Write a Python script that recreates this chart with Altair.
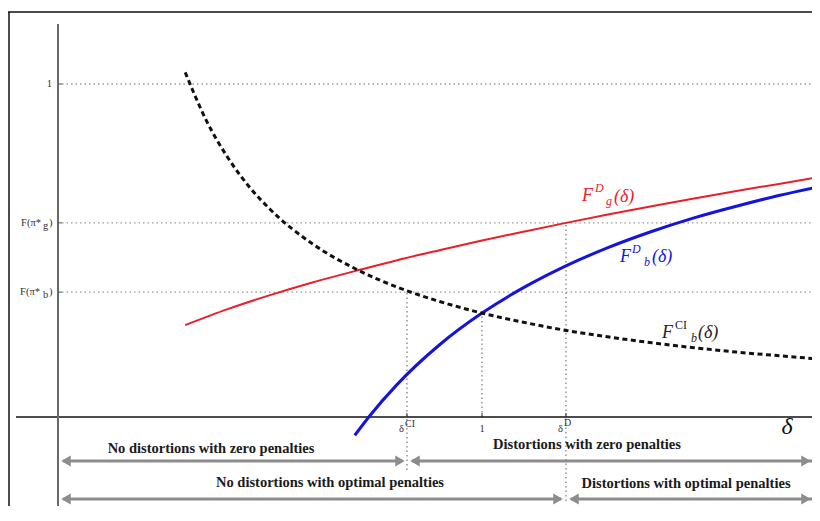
import altair as alt
import pandas as pd

# ---------------- data ----------------
# F^CI_b(delta)  (black dashed)
ci_delta = [0.30, 0.35, 0.40, 0.45, 0.50, 0.60, 0.70, 0.823, 0.90, 1.00, 1.10, 1.198, 1.30, 1.40, 1.50, 1.60, 1.70, 1.797]
ci_value = [1.035, 0.89, 0.78, 0.693, 0.624, 0.52, 0.446, 0.379, 0.347, 0.312, 0.284, 0.26, 0.24, 0.223, 0.208, 0.195, 0.184, 0.174]
# F^D_g(delta)  (red)
g_delta = [0.30, 0.40, 0.50, 0.60, 0.70, 0.80, 0.90, 1.00, 1.10, 1.198, 1.30, 1.40, 1.50, 1.60, 1.70, 1.797]
g_value = [0.276, 0.324, 0.366, 0.404, 0.438, 0.471, 0.501, 0.530, 0.557, 0.583, 0.609, 0.633, 0.656, 0.679, 0.700, 0.721]
# F^D_b(delta)  (blue)
b_delta = [0.70, 0.733, 0.80, 0.90, 1.00, 1.10, 1.198, 1.30, 1.40, 1.50, 1.60, 1.70, 1.797]
b_value = [-0.055, 0.0, 0.098, 0.217, 0.312, 0.390, 0.454, 0.510, 0.557, 0.598, 0.633, 0.665, 0.692]

# key levels
y_levels = [1.0, 0.583, 0.375]              # 1, F(pi*_g), F(pi*_b)
x_marks = [0.823, 1.0, 1.198]               # delta^CI, 1, delta^D

# ---------------- scales (fill whole view) ----------------
W, H = 804, 498
PXX = 424.0   # px per unit delta
PXY = 333.0   # px per unit F
d0 = -50 / PXX
d1 = d0 + W / PXX
y1 = 409 / PXY
y0 = y1 - H / PXY

xs = alt.Scale(domain=[d0, d1], nice=False, zero=False)
ys = alt.Scale(domain=[y0, y1], nice=False, zero=False)


def px(v):
    return (v - 58) / PXX


def py(v):
    return (417 - v) / PXY


def X(f="x"):
    return alt.X(f"{f}:Q", scale=xs, axis=None)


def Y(f="y"):
    return alt.Y(f"{f}:Q", scale=ys, axis=None)


def line(dx, dy, **kw):
    df = pd.DataFrame({"x": dx, "y": dy})
    return alt.Chart(df).mark_line(interpolate="monotone", clip=True, **kw).encode(x=X(), y=Y())


def rules(rows, **kw):
    df = pd.DataFrame(rows, columns=["x", "x2", "y", "y2"])
    return alt.Chart(df).mark_rule(clip=True, **kw).encode(
        x=X(), x2="x2:Q", y=Y(), y2="y2:Q")


def texts(rows, **kw):
    df = pd.DataFrame(rows, columns=["x", "y", "t"])
    return alt.Chart(df).mark_text(**kw).encode(x=X(), y=Y(), text="t:N")


layers = []

# frame
layers.append(rules([[d0, d1, py(12), py(12)], [px(9), px(9), y0, py(12)]],
                    color="#111", strokeWidth=1.5))

# dotted grid lines
grid_rows = [[px(62), d1, v, v] for v in y_levels]
layers.append(rules(grid_rows, color="#9a9a9a", strokeWidth=1.4, strokeDash=[1.5, 3]))

# vertical dotted guides
vtop = [0.375, 0.312, 0.583]
vbot = [py(470), 0.0, py(501)]
layers.append(rules([[x, x, b, t] for x, t, b in zip(x_marks, vtop, vbot)],
                    color="#8a8a8a", strokeWidth=1.4, strokeDash=[1.5, 3]))

# axes
layers.append(rules([[px(16), d1, 0.0, 0.0]], color="#111", strokeWidth=1.5))
layers.append(rules([[0.0, 0.0, y0, py(24)]], color="#6a6a6a", strokeWidth=2))
# small ticks
layers.append(rules([[x, x, 0.0, 4 / PXY] for x in x_marks], color="#333", strokeWidth=1))
layers.append(rules([[0.0, 4 / PXX, v, v] for v in y_levels], color="#555", strokeWidth=1))

# curves
layers.append(line(g_delta, g_value, color="#e8202a", strokeWidth=2))
layers.append(line(b_delta, b_value, color="#1414dc", strokeWidth=3))
layers.append(line(ci_delta, ci_value, color="#111111", strokeWidth=3, strokeDash=[5, 3.5]))

# arrows
ay1, ay2 = py(461), py(499)
arrow_col = "#8c8c8c"
layers.append(rules([
    [px(63), px(402), ay1, ay1], [px(412), px(815), ay1, ay1],
    [px(63), px(561), ay2, ay2], [px(571), px(815), ay2, ay2],
], color=arrow_col, strokeWidth=3))
left_heads = pd.DataFrame({"x": [px(66), px(415), px(66), px(574)],
                           "y": [ay1, ay1, ay2, ay2]})
right_heads = pd.DataFrame({"x": [px(400), px(806), px(558), px(806)],
                            "y": [ay1, ay1, ay2, ay2]})
layers.append(alt.Chart(left_heads).mark_point(shape="triangle-left", filled=True, size=120,
                                               color=arrow_col, opacity=1).encode(x=X(), y=Y()))
layers.append(alt.Chart(right_heads).mark_point(shape="triangle-right", filled=True, size=120,
                                                color=arrow_col, opacity=1).encode(x=X(), y=Y()))

# region labels
SERIF = "Liberation Serif"
layers.append(texts([
    [px(211), py(449), "No distortions with zero penalties"],
    [px(587), py(445), "Distortions with zero penalties"],
    [px(330), py(483), "No distortions with optimal penalties"],
    [px(686), py(484), "Distortions with optimal penalties"],
], font=SERIF, fontSize=14.5, fontWeight="bold", color="#1a1a1a", align="center", baseline="middle"))

# curve labels (italic, with super/subscripts)
big = dict(font=SERIF, fontSize=18, fontStyle="italic", align="left", baseline="alphabetic")
small = dict(font=SERIF, fontSize=12, fontStyle="italic", align="left", baseline="alphabetic")
smallup = dict(font=SERIF, fontSize=12, align="left", baseline="alphabetic")
red, blue, blk = "#e8202a", "#1414dc", "#222222"
layers.append(texts([[px(582), py(201), "F"], [px(614), py(202), "(δ)"]], color=red, **big))
layers.append(texts([[px(595), py(192), "D"], [px(606), py(205), "g"]], color=red, **small))
layers.append(texts([[px(620), py(262), "F"], [px(652), py(262), "(δ)"]], color=blue, **big))
layers.append(texts([[px(632), py(253), "D"], [px(644), py(266), "b"]], color=blue, **small))
layers.append(texts([[px(662), py(338), "F"], [px(698), py(338), "(δ)"]], color=blk, **big))
layers.append(texts([[px(675), py(329), "CI"]], color=blk, **smallup))
layers.append(texts([[px(691), py(342), "b"]], color=blk, **small))

# axis label delta
layers.append(texts([[px(787), py(434), "δ"]], font=SERIF, fontSize=24, fontStyle="italic",
                    color="#111", align="center", baseline="alphabetic"))

# x tick labels
tick = dict(font=SERIF, fontSize=10.5, color="#333", baseline="alphabetic")
layers.append(texts([[px(399), py(432), "δ"], [px(558), py(432), "δ"]], align="left", **tick))
layers.append(texts([[px(482), py(432), "1"]], align="center", **tick))
layers.append(texts([[px(405), py(427), "CI"], [px(564), py(426), "D"]], align="left",
                    font=SERIF, fontSize=10, color="#333", baseline="alphabetic"))

# y tick labels
ytick = dict(font=SERIF, fontSize=10.5, color="#333", baseline="middle")
layers.append(texts([[px(52), 1.0, "1"], [px(41), 0.583, "F(π*"], [px(40), 0.375, "F(π*"]],
                    align="right", **ytick))
layers.append(texts([[px(43), py(226), "g"], [px(43), py(295), "b"],
                     [px(49), 0.583, ")"], [px(49), 0.375, ")"]], align="left", **ytick))

chart = alt.layer(*layers).properties(
    width=W, height=H, autosize=alt.AutoSizeParams(type="none"), padding=0,
).configure_view(stroke=None)

chart.save("out.html", embed_options={"renderer": "svg", "actions": False})
